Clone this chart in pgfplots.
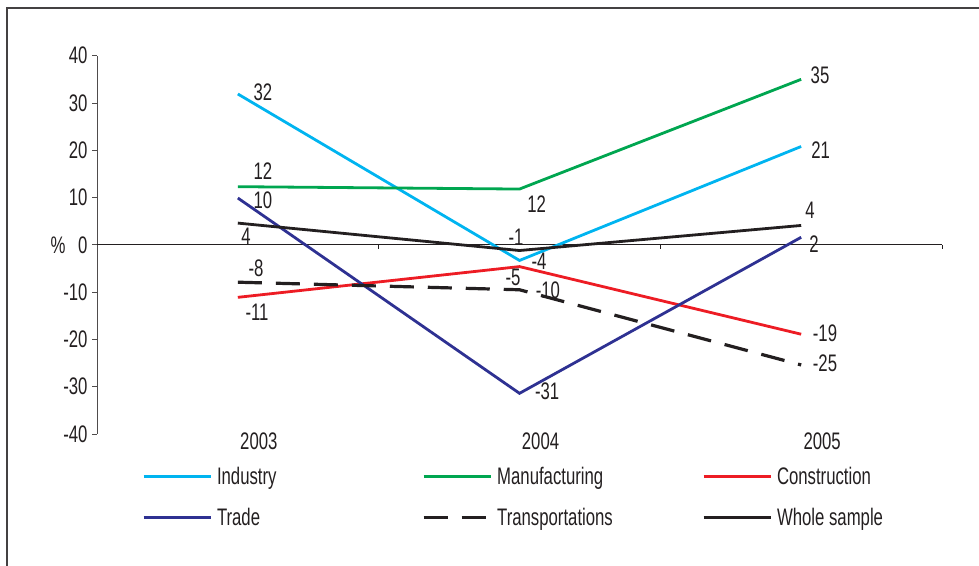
\documentclass[border=0pt]{standalone}
\usepackage{fontspec}
\setmainfont{Liberation Sans}[FakeStretch=0.7]
\usepackage{pgfplots}
\pgfplotsset{compat=1.18}
\definecolor{cInd}{RGB}{0,180,240}
\definecolor{cMan}{RGB}{0,166,80}
\definecolor{cCon}{RGB}{237,28,36}
\definecolor{cTra}{RGB}{46,49,146}
\definecolor{cBlk}{RGB}{35,31,32}
\begin{document}
\begin{tikzpicture}[x=1bp,y=1bp]
\path[use as bounding box] (0,0) rectangle (979,566);
\draw[cBlk!85, line width=1.5bp] (7,0) -- (7,558) -- (979,558);
\begin{axis}[
  at={(97bp,132bp)}, anchor=south west,
  width=845bp, height=378.3bp, scale only axis,
  xmin=-0.5, xmax=2.5, ymin=-40, ymax=40,
  axis y line*=left, axis x line*=bottom,
  x axis line style={draw=none},
  y axis line style={cBlk!80, line width=0.9bp},
  xtick={0,1,2}, xticklabels={2003,2004,2005},
  xtick style={draw=none},
  ytick={-40,-30,...,40},
  ytick style={cBlk!80, line width=0.9bp},
  tick align=outside, major tick length=5bp,
  /pgf/number format/assume math mode=true,
  font=\fontsize{24}{26}\selectfont,
  xticklabel style={anchor=center, xshift=21bp, yshift=-2bp, text=cBlk},
  yticklabel style={text=cBlk, xshift=-1bp},
  clip=false,
  legend columns=3,
  legend style={at={(axis cs:-0.5,-40)}, anchor=north west, xshift=45bp, yshift=-33bp,
    draw=none, fill=none, inner sep=0pt, row sep=22bp,
    nodes={inner sep=0pt, text=cBlk}},
  legend cell align=left,
  legend image code/.code={\draw[#1] (0bp,0bp) -- (67bp,0bp);},
]
\draw[cBlk, line width=1.1bp] (axis cs:-0.5,0) -- (axis cs:2.5,0);
\draw[cBlk, line width=1bp] (axis cs:0.5,0) -- ([yshift=-4bp]axis cs:0.5,0);
\draw[cBlk, line width=1bp] (axis cs:1.5,0) -- ([yshift=-4bp]axis cs:1.5,0);
\draw[cBlk, line width=1bp] (axis cs:2.5,0) -- ([yshift=-4bp]axis cs:2.5,0);
\addplot[cInd, line width=2.8bp] coordinates {(0,31.9) (1,-3.3) (2,20.8)};
\addlegendentry{\makebox[210bp][l]{\hspace{5bp}Industry}}
\addplot[cMan, line width=2.8bp] coordinates {(0,12.3) (1,11.8) (2,35.0)};
\addlegendentry{\makebox[210bp][l]{\hspace{5bp}Manufacturing}}
\addplot[cCon, line width=2.8bp] coordinates {(0,-11.1) (1,-4.6) (2,-18.9)};
\addlegendentry{\makebox[210bp][l]{\hspace{5bp}Construction}}
\addplot[cTra, line width=2.8bp] coordinates {(0,9.9) (1,-31.4) (2,1.6)};
\addlegendentry{\makebox[210bp][l]{\hspace{5bp}Trade}}
\addplot[cBlk, line width=3.2bp, dash pattern=on 24bp off 14bp] coordinates {(0,-7.9) (1,-9.5) (2,-25.4)};
\addlegendentry{\makebox[210bp][l]{\hspace{5bp}Transportations}}
\addplot[cBlk, line width=2.8bp] coordinates {(0,4.6) (1,-1.2) (2,4.1)};
\addlegendentry{\makebox[210bp][l]{\hspace{5bp}Whole sample}}
\node[text=cBlk] at (axis cs:-0.5,0) [xshift=-39bp] {\%};
\begin{scope}[every node/.style={text=cBlk, inner sep=0pt}]
\node at (axis cs:0.089,32.2) {32};
\node at (axis cs:0.089,15.6) {12};
\node at (axis cs:0.089,9.4) {10};
\node at (axis cs:0.029,1.9) {4};
\node at (axis cs:0.0645,-5.0) {-8};
\node at (axis cs:0.068,-14.3) {-11};
\node at (axis cs:1.061,8.6) {12};
\node at (axis cs:0.9875,1.6) {-1};
\node at (axis cs:1.069,-3.5) {-4};
\node at (axis cs:0.977,-6.8) {-5};
\node at (axis cs:1.101,-9.7) {-10};
\node at (axis cs:1.098,-31.0) {-31};
\node at (axis cs:2.067,35.9) {35};
\node at (axis cs:2.069,20.1) {21};
\node at (axis cs:2.031,7.25) {4};
\node at (axis cs:2.0455,0.2) {2};
\node at (axis cs:2.0845,-18.7) {-19};
\node at (axis cs:2.0845,-25.0) {-25};
\end{scope}
\end{axis}
\end{tikzpicture}
\end{document}
